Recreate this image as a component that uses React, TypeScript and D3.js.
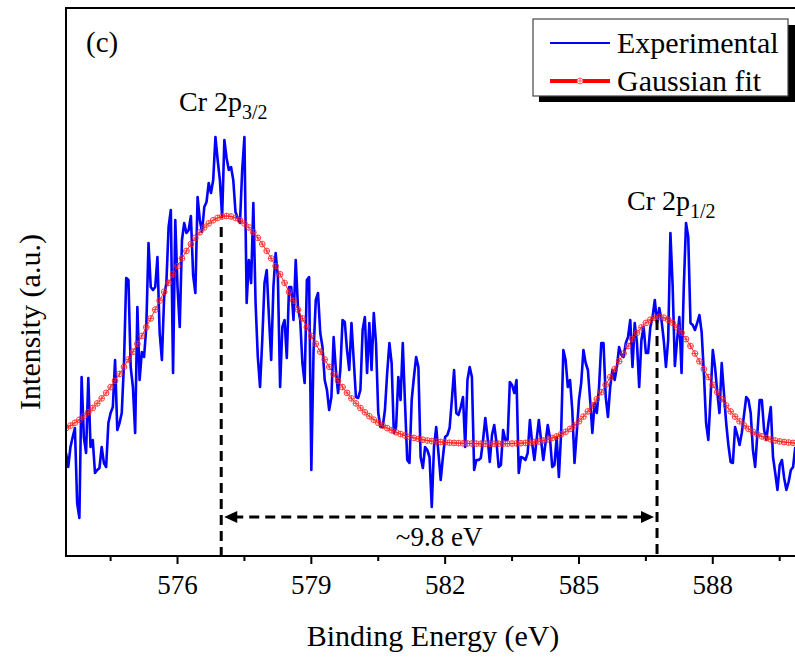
import React from "react";
import * as d3 from "d3";

// energies in eV, intensity in arbitrary units
const energyStart = 573.5;
const expStep = 0.05;
const fitStep = 0.1;

const experimental = [
  103, 89, 109, 119, 128, 53, 38, 179, 119, 103,
  178, 109, 116, 83, 86, 88, 109, 93, 89, 133,
  143, 149, 196, 126, 133, 143, 193, 278, 276, 189,
  169, 123, 249, 176, 204, 199, 229, 313, 269, 266,
  269, 299, 223, 196, 259, 273, 329, 346, 183, 336,
  269, 229, 316, 333, 323, 326, 340,
  281, 263, 359, 336, 324, 349, 354, 373, 363, 376,
  419, 396, 376, 339, 416, 398, 386, 389, 376, 344,
  338, 333, 386, 419, 253, 296, 273, 353, 253, 199,
  169, 216, 273, 286, 239, 196, 269, 303, 279, 169,
  229, 236, 198, 269, 269, 236, 296, 249, 236, 193,
  173, 276, 279, 86,
  205, 256, 263, 223, 209, 176, 166, 146, 159, 219,
  186, 163, 186, 236, 234, 206, 186, 233, 196, 159,
  158, 166, 226, 239, 183, 233, 186, 243, 213, 143,
  129, 129, 146, 183, 213, 193, 123, 129, 179, 156,
  213, 153, 96, 93, 156, 179, 199, 189, 99, 88,
  109, 106, 99, 49,
  109, 129, 103, 76, 99, 119, 121, 128, 156, 186,
  143, 141, 149, 159, 109, 176, 189, 179, 86, 96,
  96, 98, 116, 138, 119, 94, 121, 131, 114, 89,
  91, 126, 116, 116, 174, 171, 163, 176, 83, 99,
  98, 96, 103, 136, 113, 96, 116, 136, 116, 96,
  113, 131, 118, 89, 91,
  119, 79, 123, 206, 196, 169, 176, 146, 93, 123,
  156, 173, 206, 193, 186, 156, 123, 153, 143, 169,
  213, 213, 159, 139, 169, 186, 176, 189, 209, 201,
  199, 213, 219, 236, 189, 233, 213, 169, 216, 229,
  203, 203, 229, 239, 256, 233, 248, 236, 216, 189,
  216, 323, 270, 190,
  216, 239, 183, 269, 333, 319, 233, 231, 226, 233,
  241, 224, 183, 133, 116, 159, 206, 189, 164, 143,
  193, 163, 133, 111, 94, 93, 129, 121, 111, 123,
  141, 159, 156, 143, 106, 89, 123, 156, 156, 126,
  116, 134, 149, 99, 83, 66, 91, 96, 78, 66,
  74, 86, 89, 109,
];

const gaussianFit = [
  127.9, 130.4, 133.2, 136.3, 139.8, 143.7, 148.0, 152.6, 157.6, 163.1,
  168.9, 175.2, 182.0, 189.1, 196.5, 204.3, 212.2, 220.1, 228.8, 237.6,
  246.4, 255.4, 264.2, 273.1, 281.7, 289.9, 297.6, 305.1, 311.9, 318.2,
  323.7, 328.6, 332.6, 335.8, 338.1, 339.5, 340.0, 339.5, 338.1, 335.8,
  332.6, 328.6, 323.7, 318.2, 311.9, 305.1, 297.6, 289.9, 281.7, 273.1,
  264.2, 255.4, 246.4, 237.6, 228.8, 220.1, 212.2, 204.3, 196.5, 189.1,
  182.0, 175.2, 168.9, 163.1, 157.6, 152.6, 148.0, 143.7, 139.8, 136.3,
  133.2, 130.4, 127.9, 125.7, 123.7, 122.0, 120.5, 119.3, 118.1, 117.1,
  116.3, 115.5, 114.9, 114.4, 114.0, 113.6, 113.3, 113.1, 112.9, 112.7,
  112.6, 112.5, 112.4, 112.3, 112.3, 112.2, 112.2, 112.3, 112.3, 112.4,
  112.5, 112.6, 112.8, 113.1, 113.5, 114.0, 114.6, 115.5, 116.6, 118.0,
  119.6, 121.7, 124.2, 127.1, 130.6, 134.7, 139.4, 144.6, 150.5, 156.9,
  163.8, 171.2, 178.9, 186.9, 194.7, 202.5, 210.0, 216.9, 223.2, 228.6,
  233.1, 236.3, 238.3, 239.0, 238.3, 236.3, 233.1, 228.6, 223.2, 216.9,
  210.0, 202.5, 194.7, 186.9, 178.9, 171.2, 163.8, 156.9, 150.5, 144.6,
  139.4, 134.7, 130.6, 127.1, 124.2, 121.7, 119.6, 118.0, 116.6, 115.5,
  114.6, 114.0, 113.5, 113.1, 112.8, 112.6,
];

const xTicks = [576, 579, 582, 585, 588];
const xMinorTicks = [574.5, 577.5, 580.5, 583.5, 586.5, 589.5];
const peakEnergies = [576.98, 586.75];
const peakMarkTops = [329, 236];
const arrowLevel = 39;

const W = 795;
const H = 657;
const left = 66;
const right = 802;
const top = 8;
const bottom = 556;
const font = "Liberation Serif, Times New Roman, DejaVu Serif, serif";

export default function App() {
  const x = d3.scaleLinear().domain([573.5, 590]).range([left, right]);
  const y = d3.scaleLinear().domain([0, 548]).range([bottom, top]);

  const expPts = experimental.map((v, i) => [energyStart + i * expStep, v] as [number, number]);
  const fitPts = gaussianFit.map((v, i) => [energyStart + i * fitStep, v] as [number, number]);

  const line = d3.line<[number, number]>().x((d) => x(d[0])).y((d) => y(d[1]));

  const ax1 = x(peakEnergies[0]);
  const ax2 = x(peakEnergies[1]);
  const ay = y(arrowLevel);

  return (
    <div style={{ position: "absolute", left: 0, top: 0 }}>
      <svg width={W} height={H} style={{ display: "block", background: "#fff", fontFamily: font }}>
        <defs>
          <clipPath id="plot">
            <rect x={left} y={top} width={right - left} height={bottom - top} />
          </clipPath>
        </defs>

        <g clipPath="url(#plot)">
          <path d={line(expPts) || ""} fill="none" stroke="#0000ff" strokeWidth={2.6} strokeLinejoin="round" />
          <path d={line(fitPts) || ""} fill="none" stroke="#ff0000" strokeWidth={0.8} />
          {fitPts.map((d, i) => {
            const cx = x(d[0]);
            const cy = y(d[1]);
            return (
              <g key={i} stroke="#ff2020" strokeWidth={0.8} fill="none">
                <circle cx={cx} cy={cy} r={2.9} />
                <line x1={cx - 2.9} x2={cx + 2.9} y1={cy} y2={cy} />
                <line x1={cx} x2={cx} y1={cy - 2.9} y2={cy + 2.9} />
              </g>
            );
          })}
        </g>

        {/* peak markers */}
        {peakEnergies.map((e, i) => (
          <line key={i} x1={x(e)} x2={x(e)} y1={y(peakMarkTops[i])} y2={bottom}
            stroke="#000" strokeWidth={3} strokeDasharray="10,6" />
        ))}
        <line x1={ax1 + 12} x2={ax2 - 12} y1={ay} y2={ay} stroke="#000" strokeWidth={3} strokeDasharray="10,6" />
        <path d={`M${ax1 + 3},${ay} L${ax1 + 16},${ay - 6} L${ax1 + 16},${ay + 6} Z`} fill="#000" />
        <path d={`M${ax2 - 3},${ay} L${ax2 - 16},${ay - 6} L${ax2 - 16},${ay + 6} Z`} fill="#000" />
        <text x={(ax1 + ax2) / 2} y={546} textAnchor="middle" fontSize={27}>~9.8 eV</text>

        {/* frame */}
        <rect x={left} y={top} width={right - left} height={bottom - top} fill="none" stroke="#000" strokeWidth={2} />

        {/* x axis ticks */}
        {xTicks.map((t) => (
          <g key={t}>
            <line x1={x(t)} x2={x(t)} y1={bottom} y2={bottom + 8} stroke="#000" strokeWidth={2} />
            <text x={x(t)} y={594} textAnchor="middle" fontSize={27}>{t}</text>
          </g>
        ))}
        {xMinorTicks.map((t) => (
          <line key={t} x1={x(t)} x2={x(t)} y1={bottom} y2={bottom + 5} stroke="#000" strokeWidth={2} />
        ))}

        <text x={433} y={646} textAnchor="middle" fontSize={30}>Binding Energy (eV)</text>
        <text transform="translate(40,322) rotate(-90)" textAnchor="middle" fontSize={30}>Intensity (a.u.)</text>

        <text x={86} y={52} fontSize={29}>(c)</text>
        <text x={179} y={111} fontSize={28}>
          Cr 2p<tspan dy={8} fontSize={20}>3/2</tspan>
        </text>
        <text x={627} y={210} fontSize={28}>
          Cr 2p<tspan dy={8} fontSize={20}>1/2</tspan>
        </text>

        {/* legend */}
        <rect x={539} y={25} width={256} height={77} fill="#000" />
        <rect x={533} y={19} width={255} height={77} fill="#fff" stroke="#444" strokeWidth={1.2} />
        <line x1={550} x2={610} y1={43} y2={43} stroke="#0000ff" strokeWidth={2} />
        <text x={617} y={53} fontSize={30}>Experimental</text>
        <line x1={550} x2={610} y1={81} y2={81} stroke="#ff0000" strokeWidth={4} />
        <circle cx={580} cy={81} r={3} fill="#fff" stroke="#ff4040" strokeWidth={0.8} />
        <line x1={577} x2={583} y1={81} y2={81} stroke="#ff4040" strokeWidth={0.8} />
        <line x1={580} x2={580} y1={78} y2={84} stroke="#ff4040" strokeWidth={0.8} />
        <text x={617} y={91} fontSize={30}>Gaussian fit</text>
      </svg>
    </div>
  );
}
